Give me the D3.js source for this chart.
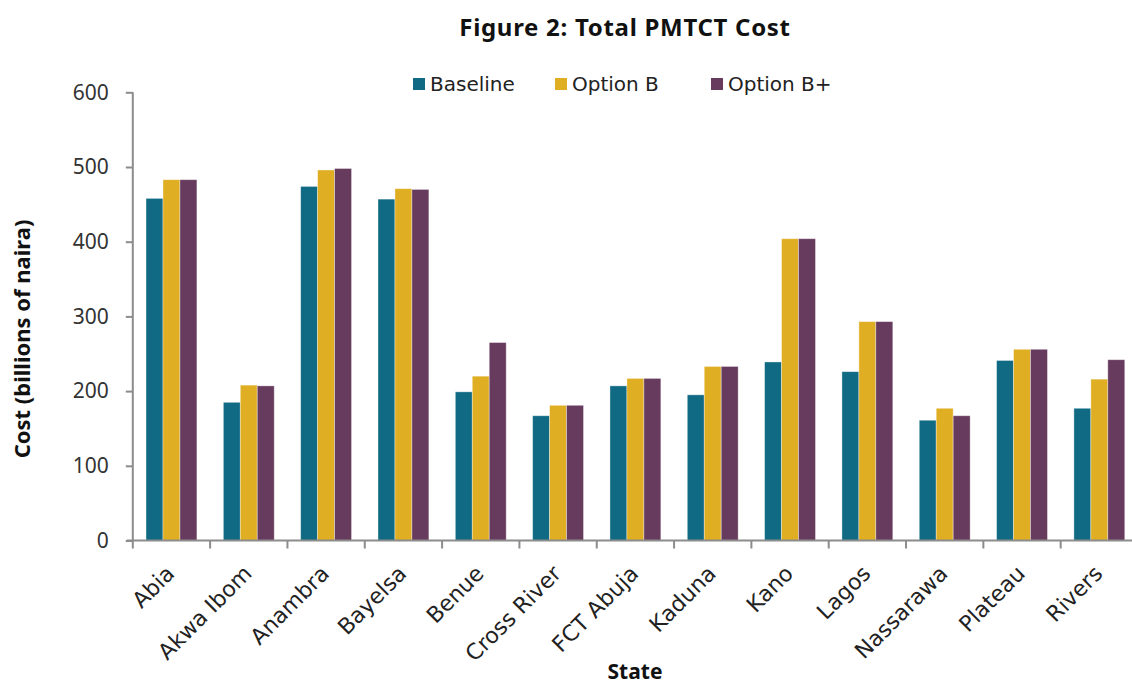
<!DOCTYPE html>
<html>
<head>
<meta charset="utf-8">
<script src="https://cdn.jsdelivr.net/npm/d3@7"></script>
<style>
  html, body { margin: 0; padding: 0; background: #fff; }
  svg { display: block; font-family: "Noto Sans", "DejaVu Sans", sans-serif; }
</style>
</head>
<body>
<svg id="chart" width="1132" height="684"></svg>
<script>
const categories = ["Abia", "Akwa Ibom", "Anambra", "Bayelsa", "Benue", "Cross River", "FCT Abuja", "Kaduna", "Kano", "Lagos", "Nassarawa", "Plateau", "Rivers"];
const seriesNames = ["Baseline", "Option B", "Option B+"];
const baseline = [458, 185, 474, 457, 199, 167, 207, 195, 239, 226, 161, 241, 177];
const optionB  = [483, 208, 496, 471, 220, 181, 217, 233, 404, 293, 177, 256, 216];
const optionBPlus = [483, 207, 498, 470, 265, 181, 217, 233, 404, 293, 167, 256, 242];
const yTicks = [0, 100, 200, 300, 400, 500, 600];
const colors = ["#116A84", "#E0AE22", "#673B5E"];

const seriesValues = [baseline, optionB, optionBPlus];
const data = categories.map((c, i) => ({ cat: c, values: seriesNames.map((s, j) => ({ key: s, value: seriesValues[j][i] })) }));

const svg = d3.select("#chart");
const plotLeft = 132.8, plotRight = 1138, plotTop = 92.3, plotBottom = 540.5;

const x0 = d3.scaleBand().domain(categories).range([plotLeft, plotRight]).padding(0);
const x1 = d3.scaleBand().domain(seriesNames).range([0, x0.bandwidth()]).paddingInner(0).paddingOuter(0.78);
const y = d3.scaleLinear().domain([0, 600]).range([plotBottom, plotTop]);
const color = d3.scaleOrdinal().domain(seriesNames).range(colors);

// Title
svg.append("text").attr("x", 625).attr("y", 36).attr("text-anchor", "middle")
  .attr("font-size", 24).attr("font-weight", "bold").attr("fill", "#111")
  .attr("letter-spacing", 0.7)
  .text("Figure 2: Total PMTCT Cost");

// Bars
const groups = svg.append("g").selectAll("g").data(data).join("g")
  .attr("transform", d => `translate(${x0(d.cat)},0)`);
groups.selectAll("rect").data(d => d.values).join("rect")
  .attr("x", d => x1(d.key))
  .attr("y", d => y(d.value))
  .attr("width", x1.bandwidth())
  .attr("height", d => y(0) - y(d.value))
  .attr("fill", d => color(d.key))
  .attr("stroke", "rgba(255,255,255,0.45)")
  .attr("stroke-width", 0.8);

// Y axis
const yAxis = d3.axisLeft(y).tickValues(yTicks).tickSize(8).tickPadding(16);
const gy = svg.append("g").attr("transform", `translate(${plotLeft},0)`).call(yAxis);
gy.select(".domain").attr("stroke", "#8c8c8c").attr("stroke-width", 2)
  .attr("d", `M0,${plotTop}V${plotBottom}`);
gy.selectAll(".tick line").attr("stroke", "#8c8c8c").attr("stroke-width", 2).attr("x1", -7).attr("x2", 0);
gy.selectAll(".tick text").attr("font-size", 21).attr("fill", "#333").attr("font-family", "'Noto Sans', sans-serif");

// X axis
const xAxis = d3.axisBottom(x0).tickSize(0).tickFormat("");
const gx = svg.append("g").attr("transform", `translate(0,${plotBottom})`).call(xAxis);
gx.select(".domain").attr("stroke", "#8c8c8c").attr("stroke-width", 2).attr("d", `M${plotLeft - 6},0H${plotRight}`);
gx.selectAll(".tick").remove();
const boundaries = categories.map(c => x0(c));
gx.selectAll("line.sep").data(boundaries).join("line").attr("class", "sep")
  .attr("x1", d => d).attr("x2", d => d).attr("y1", 0).attr("y2", 8)
  .attr("stroke", "#8c8c8c").attr("stroke-width", 2);

// X labels rotated
svg.append("g").selectAll("text").data(categories).join("text")
  .attr("transform", c => `translate(${x0(c) + x0.bandwidth() / 2 - 1},${plotBottom + 29}) rotate(-45)`)
  .attr("text-anchor", "end")
  .attr("dy", "0.35em")
  .attr("font-family", "'DejaVu Sans', sans-serif")
  .attr("font-size", 22).attr("fill", "#222")
  .text(c => c);

// Axis titles
svg.append("text").attr("transform", `translate(30,339) rotate(-90)`)
  .attr("text-anchor", "middle").attr("font-size", 22).attr("font-weight", "bold").attr("fill", "#111")
  .text("Cost (billions of naira)");
svg.append("text").attr("x", 635).attr("y", 679).attr("text-anchor", "middle")
  .attr("font-size", 21).attr("font-weight", "bold").attr("fill", "#111")
  .text("State");

// Legend
const legendX = [413, 555, 711];
const lg = svg.append("g").selectAll("g").data(seriesNames).join("g")
  .attr("transform", (d, i) => `translate(${legendX[i]},78)`);
lg.append("rect").attr("width", 12).attr("height", 12).attr("fill", d => color(d));
lg.append("text").attr("x", 17).attr("y", 6).attr("dy", "0.36em")
  .attr("font-family", "'DejaVu Sans', sans-serif")
  .attr("font-size", 20).attr("fill", "#222").text(d => d);
</script>
</body>
</html>
